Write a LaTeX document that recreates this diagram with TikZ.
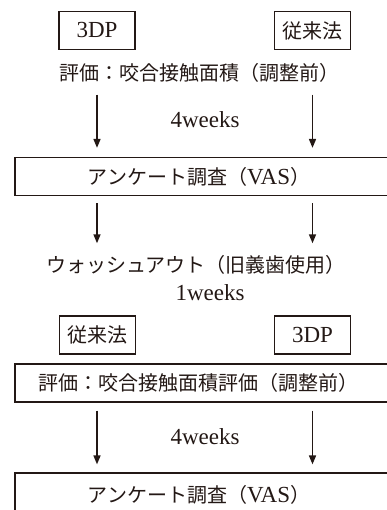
\documentclass[tikz,border=0pt]{standalone}
\usepackage{fontspec}
\setmainfont{Liberation Serif}
\newfontfamily\jp{Noto Sans CJK JP}
\usetikzlibrary{arrows.meta}
\definecolor{ink}{HTML}{231815}
\begin{document}
\begin{tikzpicture}[x=1pt,y=-1pt,
  every node/.style={text=ink},
  smallbox/.style={draw=ink,line width=1.2pt,minimum width=76pt,minimum height=38pt,inner sep=0pt},
  widebox/.style={draw=ink,line width=1.2pt,minimum width=390pt,minimum height=38pt,inner sep=0pt},
  jptext/.style={font=\jp\fontsize{20}{24}\selectfont,inner sep=0pt},
  lattext/.style={font=\fontsize{23}{27}\selectfont,inner sep=0pt},
  arr/.style={draw=ink,line width=1.6pt,-{Triangle[length=9pt,width=7pt]}}]
\useasboundingbox (0,0) rectangle (387,510);
\clip (0,0) rectangle (387,510);
% top boxes
\node[smallbox,lattext] (b1) at (97,30.5) {3DP};
\node[smallbox,jptext] (b2) at (312.5,30.5) {従来法};
\node[jptext] (t1) at (199,73) {評価：咬合接触面積（調整前）};
\node[lattext] (w1) at (205,120) {4weeks};
% box 3
\node[widebox] (box3) at (210,176.5) {};
\node[jptext] (t3) at (199,176.5) {アンケート調査（{\rmfamily\fontsize{23}{27}\selectfont VAS}）};
\draw[arr,shorten <=12pt,shorten >=9pt] (t1.south -| b1.center) -- (box3.north -| b1.center);
\draw[arr,shorten <=12pt,shorten >=9pt] (t1.south -| b2.center) -- (box3.north -| b2.center);
% washout
\node[jptext] (t4) at (196,265) {ウォッシュアウト（旧義歯使用）};
\node[lattext] (t5) at (210,293) {1weeks};
\draw[arr,shorten <=7pt,shorten >=12pt] (box3.south -| b1.center) -- (t4.north -| b1.center);
\draw[arr,shorten <=7pt,shorten >=12pt] (box3.south -| b2.center) -- (t4.north -| b2.center);
% second small boxes
\node[smallbox,jptext] (b3) at (97.5,335) {従来法};
\node[smallbox,lattext] (b4) at (312.5,335) {3DP};
% box 5
\node[widebox] (box5) at (210,383) {};
\node[jptext] (t6) at (198,383) {評価：咬合接触面積評価（調整前）};
\node[lattext] (w2) at (205,437) {4weeks};
% box 6
\node[widebox] (box6) at (210,492) {};
\node[jptext] (t7) at (199,495) {アンケート調査（{\rmfamily\fontsize{23}{27}\selectfont VAS}）};
\draw[arr,shorten <=8pt,shorten >=8pt] (box5.south -| b1.center) -- (box6.north -| b1.center);
\draw[arr,shorten <=8pt,shorten >=8pt] (box5.south -| b2.center) -- (box6.north -| b2.center);
\end{tikzpicture}
\end{document}
